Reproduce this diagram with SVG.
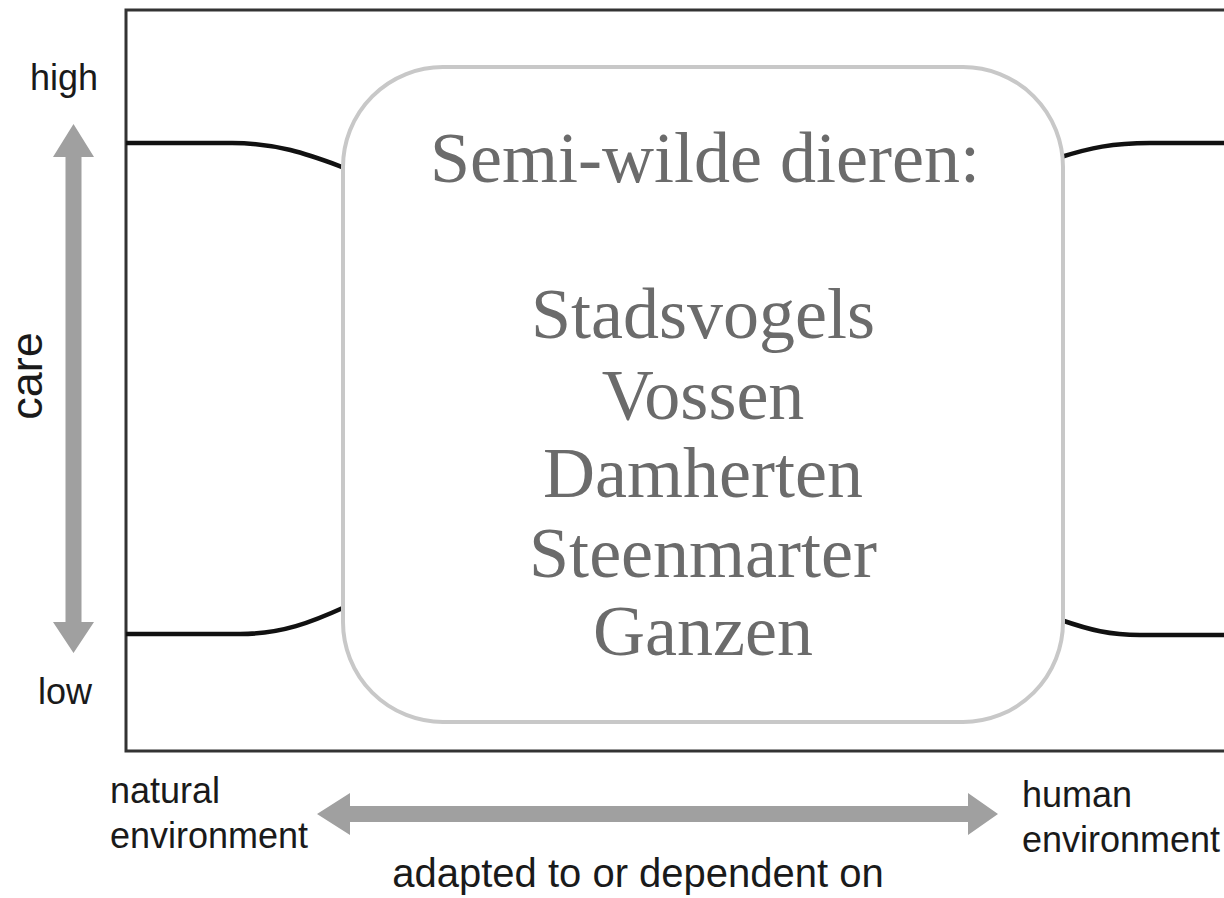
<svg xmlns="http://www.w3.org/2000/svg" width="1224" height="898" viewBox="0 0 1224 898">
<style>
.sans{font-family:"Liberation Sans",Arial,sans-serif;fill:#1a1a1a}
.serif{font-family:"Liberation Serif","Times New Roman",serif;fill:#6b6b6b;font-size:72px;text-anchor:middle}
.curve{fill:none;stroke:#111;stroke-width:4.5}
.arrow{fill:#a0a0a0}
</style>
<rect width="1224" height="898" fill="#fff"/>
<g id="frame">
<path d="M1224,10 L126,10 L126,751 L1224,751" fill="none" stroke="#333" stroke-width="3"/>
</g>
<g id="connectors">
<path class="curve" d="M126,143 L232,143 C280,143 312,156 345,168"/>
<path class="curve" d="M1061,157 C1090,148 1112,143 1150,143 L1224,143"/>
<path class="curve" d="M126,634 L240,634 C282,634 312,622 345,607"/>
<path class="curve" d="M1061,620 C1090,630 1110,635 1140,635 L1224,635"/>
</g>
<g id="care-axis">
<polygon class="arrow" points="73.5,124 94,157 81.5,157 81.5,622 94,622 73.5,653 53,622 65.5,622 65.5,157 53,157"/>
<text class="sans" x="30" y="90" font-size="36">high</text>
<text class="sans" x="38" y="704" font-size="36">low</text>
<text class="sans" font-size="45" text-anchor="middle" transform="translate(42,376) rotate(-90)">care</text>
</g>
<g id="env-axis">
<polygon class="arrow" points="317,814 350,793 350,806 968,806 968,793 998,814 968,835 968,822 350,822 350,835"/>
<text class="sans" x="110" y="803" font-size="36">natural</text>
<text class="sans" x="110" y="848" font-size="36">environment</text>
<text class="sans" x="1022" y="807" font-size="36">human</text>
<text class="sans" x="1022" y="852" font-size="36">environment</text>
<text class="sans" x="638" y="887" font-size="40" text-anchor="middle">adapted to or dependent on</text>
</g>
<g id="semi-wild">
<rect x="343" y="67" width="720" height="655" rx="100" ry="100" fill="#fff" stroke="#c8c8c8" stroke-width="4"/>
<text class="serif" x="705" y="182">Semi-wilde dieren:</text>
<text class="serif" x="703" y="338">Stadsvogels</text>
<text class="serif" x="703" y="419">Vossen</text>
<text class="serif" x="703" y="497">Damherten</text>
<text class="serif" x="703" y="577">Steenmarter</text>
<text class="serif" x="703" y="655">Ganzen</text>
</g>
</svg>
